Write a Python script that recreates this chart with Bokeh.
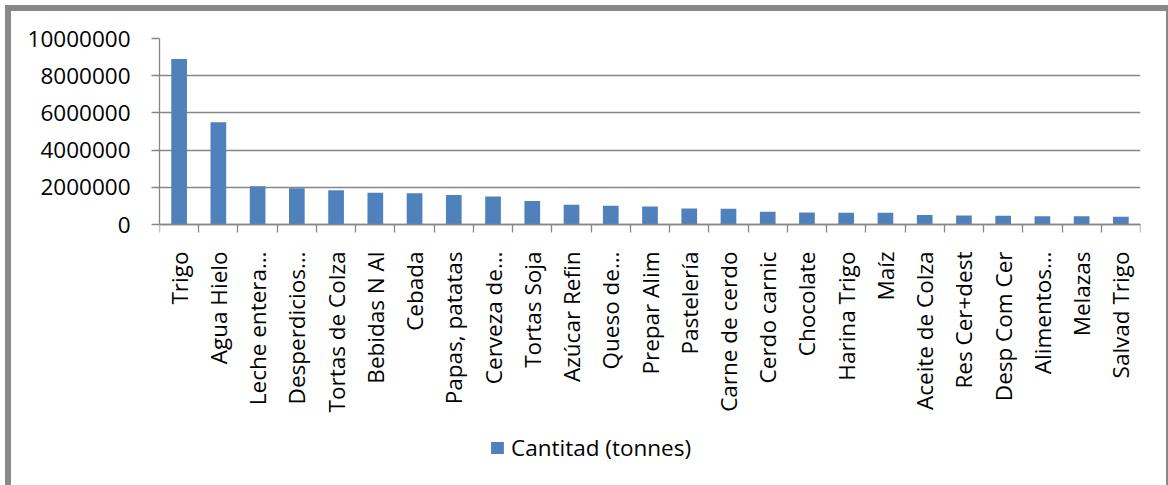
import math

from bokeh.embed import file_html
from bokeh.models import ColumnDataSource, FixedTicker, Legend, LegendItem, Range1d
from bokeh.plotting import figure
from bokeh.resources import INLINE

# Quantities per product (tonnes)
categories = [
    "Trigo", "Agua Hielo", "Leche entera…", "Desperdicios…", "Tortas de Colza",
    "Bebidas N Al", "Cebada", "Papas, patatas", "Cerveza de…", "Tortas Soja",
    "Azúcar Refin", "Queso de…", "Prepar Alim", "Pastelería", "Carne de cerdo",
    "Cerdo carnic", "Chocolate", "Harina Trigo", "Maíz", "Aceite de Colza",
    "Res Cer+dest", "Desp Com Cer", "Alimentos…", "Melazas", "Salvad Trigo",
]
cantitad = [
    8900000, 5500000, 2050000, 1950000, 1840000,
    1710000, 1680000, 1590000, 1510000, 1260000,
    1060000, 1010000, 970000, 860000, 850000,
    690000, 650000, 630000, 630000, 510000,
    490000, 470000, 450000, 450000, 420000,
]
y_ticks = [0, 2000000, 4000000, 6000000, 8000000, 10000000]
series_name = "Cantitad (tonnes)"

FONT = "Open Sans"
FONT_SIZE = "22.5px"
GREY = "#868686"
BAR_BLUE = "#4F81BD"

# canvas layout (px): value scale occupies VALUE_PX, the category labels
# and the legend sit in the LOWER_PX strip underneath it
CANVAS_W, CANVAS_H = 1163, 480
TOP_PX = 27
VALUE_PX = 186
LOWER_PX = CANVAS_H - TOP_PX - VALUE_PX

n = len(categories)
slot_centers = [i + 0.5 for i in range(n)]
slot_edges = list(range(n + 1))

y_max = y_ticks[-1]
y_min = -y_max * LOWER_PX / VALUE_PX

source = ColumnDataSource(data=dict(x=slot_centers, top=cantitad, name=categories))

p = figure(
    width=CANVAS_W, height=CANVAS_H,
    output_backend="svg", toolbar_location=None,
    x_range=Range1d(0, n), y_range=Range1d(y_min, y_max),
    min_border_left=148, min_border_right=34,
    min_border_top=TOP_PX, min_border_bottom=0,
)
# chart-area frame: heavy grey edge top/left, thin edge right
p.styles = {
    "position": "relative",
    "top": "5px",
    "left": "5px",
    "border-style": "solid",
    "border-color": "#888888",
    "border-width": "6px 2px 0 6px",
}
p.outline_line_color = None
p.background_fill_color = "white"
p.border_fill_color = "white"

bars = p.vbar(x="x", top="top", bottom=0, width=0.4, source=source,
              fill_color=BAR_BLUE, line_color=None)

# value axis
p.yaxis.bounds = (y_ticks[0], y_ticks[-1])
p.yaxis.ticker = FixedTicker(ticks=y_ticks, minor_ticks=[])
p.yaxis.major_label_overrides = {v: str(v) for v in y_ticks}
p.yaxis.axis_line_color = GREY
p.yaxis.axis_line_width = 1.3
p.yaxis.major_tick_line_color = GREY
p.yaxis.major_tick_line_width = 1.3
p.yaxis.major_tick_out = 8
p.yaxis.major_tick_in = 0
p.yaxis.minor_tick_line_color = None
p.yaxis.major_label_standoff = 21
p.yaxis.major_label_text_font = FONT
p.yaxis.major_label_text_font_size = FONT_SIZE
p.yaxis.major_label_text_color = "black"

p.ygrid.ticker = FixedTicker(ticks=y_ticks)
p.ygrid.grid_line_color = GREY
p.ygrid.grid_line_width = 1.3
p.xgrid.visible = False

# category axis on the zero line: labels at slot centres, tick marks between slots
p.xaxis.fixed_location = 0
p.xaxis.ticker = FixedTicker(ticks=slot_centers, minor_ticks=slot_edges)
p.xaxis.major_label_overrides = {c: name for c, name in zip(slot_centers, categories)}
p.xaxis.major_label_orientation = math.pi / 2
p.xaxis.axis_line_color = GREY
p.xaxis.axis_line_width = 1.3
p.xaxis.major_tick_line_color = None
p.xaxis.major_tick_out = 0
p.xaxis.major_tick_in = 0
p.xaxis.minor_tick_line_color = GREY
p.xaxis.minor_tick_line_width = 1.3
p.xaxis.minor_tick_out = 8
p.xaxis.minor_tick_in = 0
p.xaxis.major_label_standoff = 19
p.xaxis.major_label_text_font = FONT
p.xaxis.major_label_text_font_size = FONT_SIZE
p.xaxis.major_label_text_color = "black"

legend = Legend(
    items=[LegendItem(label=series_name, renderers=[bars])],
    location=(330, 28),
    orientation="horizontal",
    glyph_width=16, glyph_height=15,
    label_standoff=6,
    padding=0, margin=0, spacing=0,
    border_line_color=None, background_fill_alpha=0,
    label_text_font=FONT, label_text_font_size=FONT_SIZE,
    label_text_color="black",
)
p.add_layout(legend)

open("out.html", "w").write(file_html(p, INLINE))
